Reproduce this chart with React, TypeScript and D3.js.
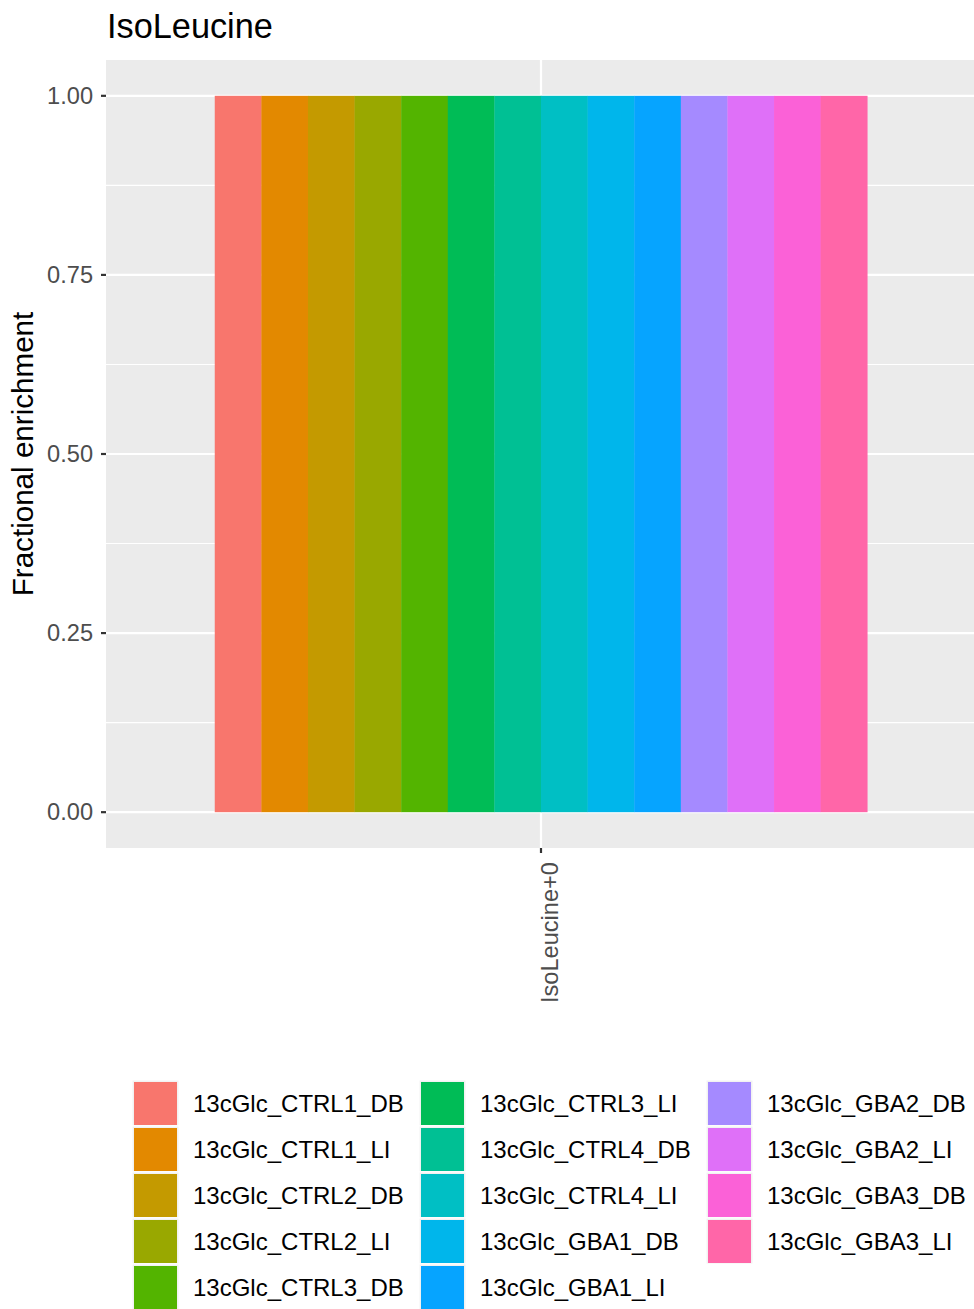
import React from "react";
import * as d3 from "d3";

const categories = ["IsoLeucine+0"];
const samples = [
  "13cGlc_CTRL1_DB", "13cGlc_CTRL1_LI", "13cGlc_CTRL2_DB", "13cGlc_CTRL2_LI",
  "13cGlc_CTRL3_DB", "13cGlc_CTRL3_LI", "13cGlc_CTRL4_DB", "13cGlc_CTRL4_LI",
  "13cGlc_GBA1_DB", "13cGlc_GBA1_LI", "13cGlc_GBA2_DB", "13cGlc_GBA2_LI",
  "13cGlc_GBA3_DB", "13cGlc_GBA3_LI",
];
const values = [1, 1, 1, 1, 1, 1, 1, 1, 1, 1, 1, 1, 1, 1];
const colors = [
  "#F8766D", "#E38900", "#C49A00", "#99A800", "#53B400", "#00BC56", "#00C094",
  "#00BFC4", "#00B6EB", "#06A4FF", "#A58AFF", "#DF70F8", "#FB61D7", "#FF66A8",
];
const yTicks = [0, 0.25, 0.5, 0.75, 1];
const yMinor = [0.125, 0.375, 0.625, 0.875];
const title = "IsoLeucine";
const yTitle = "Fractional enrichment";

export default function App() {
  const W = 974, H = 1309;
  const pL = 106, pR = 976, pT = 60, pB = 848;
  const y = d3.scaleLinear().domain([-0.05, 1.05]).range([pB, pT]);
  const xc = d3.scaleLinear().domain([0.4, 1.6]).range([pL, pR]);
  const font = "'Liberation Sans', Arial, sans-serif";

  const legendCols = [132, 419, 706];
  const legendTop = 1080;
  const pitch = 46;

  return (
    <svg width={W} height={H} style={{ position: "absolute", left: 0, top: 0 }} fontFamily={font}>
      <rect width={W} height={H} fill="#fff" />
      <text x={107} y={38} fontSize={34.3} fill="#000">{title}</text>
      <rect x={pL} y={pT} width={pR - pL} height={pB - pT} fill="#EBEBEB" />
      {yMinor.map((t) => (
        <line key={"m" + t} x1={pL} x2={pR} y1={y(t)} y2={y(t)} stroke="#fff" strokeWidth={1.1} />
      ))}
      {yTicks.map((t) => (
        <line key={"g" + t} x1={pL} x2={pR} y1={y(t)} y2={y(t)} stroke="#fff" strokeWidth={2.2} />
      ))}
      {categories.map((c, ci) => {
        const cx = xc(ci + 1);
        return <line key={c} x1={cx} x2={cx} y1={pT} y2={pB} stroke="#fff" strokeWidth={2.2} />;
      })}
      {categories.map((c, ci) => {
        const sub = d3.scaleBand<string>().domain(samples)
          .range([xc(ci + 1 - 0.45), xc(ci + 1 + 0.45)]).padding(0);
        return samples.map((s, i) => (
          <rect key={c + s} x={sub(s)!} width={sub.bandwidth() + 0.3} y={y(values[i])}
            height={y(0) - y(values[i])} fill={colors[i]} />
        ));
      })}
      {yTicks.map((t) => (
        <g key={"t" + t}>
          <line x1={pL - 5} x2={pL} y1={y(t)} y2={y(t)} stroke="#333" strokeWidth={2.2} />
          <text x={pL - 13} y={y(t)} dy="0.35em" textAnchor="end" fontSize={23.6} fill="#4D4D4D">
            {t.toFixed(2)}
          </text>
        </g>
      ))}
      {categories.map((c, ci) => {
        const cx = xc(ci + 1);
        return (
          <g key={"x" + c}>
            <line x1={cx} x2={cx} y1={pB} y2={pB + 5} stroke="#333" strokeWidth={2.2} />
            <text transform={`translate(${cx + 16.5},${pB + 14}) rotate(-90)`} textAnchor="end"
              fontSize={23.6} fill="#4D4D4D">{c}</text>
          </g>
        );
      })}
      <text transform={`translate(33,454) rotate(-90)`} textAnchor="middle"
        fontSize={29.6} fill="#000">{yTitle}</text>
      {samples.map((s, i) => {
        const col = Math.floor(i / 5);
        const row = i % 5;
        const x0 = legendCols[col];
        const y0 = legendTop + row * pitch;
        return (
          <g key={"l" + s}>
            <rect x={x0} y={y0} width={47} height={46} fill="#F2F2F2" stroke="#fff" strokeWidth={1} />
            <rect x={x0 + 2} y={y0 + 2} width={43} height={43} fill={colors[i]} />
            <text x={x0 + 61} y={y0 + 24} dy="0.35em" fontSize={24} fill="#000">{s}</text>
          </g>
        );
      })}
    </svg>
  );
}
